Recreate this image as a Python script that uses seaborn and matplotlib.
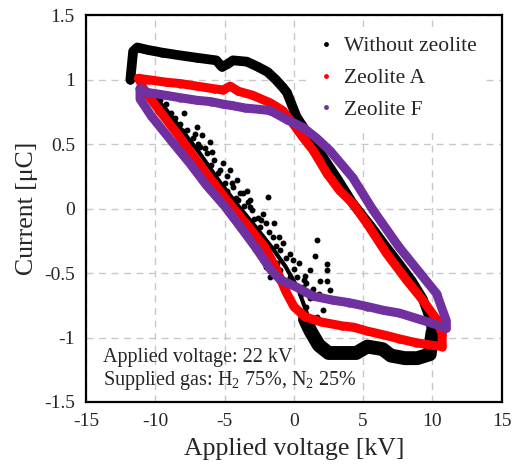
import matplotlib
matplotlib.use("Agg")
import matplotlib.pyplot as plt
from matplotlib.lines import Line2D
import seaborn as sns
import pandas as pd

# ---------------- data ----------------
# Without zeolite: upper edge and falling branch
wz_x = [-11.8, -11.6, -11.3, -10.5, -9.5, -8.3, -7.0, -5.6, -5.2, -4.8, -4.4, -3.4, -2.6, -1.9,
        -1.3, -0.8, -0.5, 0.2, 1.0, 2.1, 3.2, 4.25, 5.5, 6.6, 7.6, 8.5, 9.3, 9.7, 10.0]
wz_y = [1.00, 1.22, 1.25, 1.23, 1.21, 1.19, 1.17, 1.15, 1.10, 1.12, 1.15, 1.14, 1.10, 1.06,
        1.00, 0.94, 0.90, 0.71, 0.58, 0.40, 0.22, 0.04, -0.13, -0.29, -0.43, -0.56, -0.70, -0.82, -0.96]
# Without zeolite: lower edge
wzb_x = [10.0, 9.8, 8.9, 8.0, 7.0, 6.4, 5.3, 4.5, 3.5, 2.5, 1.8, 1.2, 0.8]
wzb_y = [-0.96, -1.13, -1.16, -1.16, -1.14, -1.09, -1.07, -1.12, -1.12, -1.12, -1.06, -0.95, -0.86]
# Without zeolite: dense inner edge of the rising branch
wze_x = [-11.0, -10.2, -9.3, -7.8, -6.8, -5.3, -4.0, -2.7, -1.6, -0.6, 0.3, 0.9, 1.3]
wze_y = [0.96, 0.88, 0.78, 0.57, 0.43, 0.20, 0.02, -0.15, -0.30, -0.45, -0.62, -0.80, -0.92]
# Without zeolite: scattered points on the rising branch
wzs_x = [-9.66, -9.2, -8.9, -7.9, -8.2, -7.7, -7.3, -7.0, -6.6, -6.05, -6.8, -6.3, -5.8, -5.1,
         -5.3, -4.8, -4.6, -4.1, -4.4, -3.9, -3.4, -3.2, -3.0, -4.8, -5.6, -3.7, -1.9, -3.2,
         -2.2, -2.0, -1.4, -2.45, -1.5, -0.8, -1.0, -0.3, 0.4, 1.15, 0.2, 1.7, 1.5, 2.4,
         2.4, 1.9, 2.4, 2.6, 0.65, 1.15, 0.9, 1.65, 2.1, -1.2, -1.7, -2.0, -1.0, -0.3, 0.2,
         -8.5, -7.5, -6.0, -5.5, -4.2, -3.6, -2.6, -1.8, -0.6, 0.0, 0.7, -10.0, -9.0, -8.0,
         -6.9, -5.0, -4.0, -2.9, -1.3, 0.5, 1.4, 0.9, -8.6, -7.1, -6.4, -5.9, -4.5, -3.3,
         -2.4, -1.1, -0.1, 0.8, 1.8, 2.2]
wzs_y = [0.84, 0.81, 0.74, 0.74, 0.66, 0.61, 0.55, 0.63, 0.57, 0.52, 0.48, 0.43, 0.38, 0.35,
         0.30, 0.25, 0.30, 0.22, 0.17, 0.12, 0.14, 0.07, -0.01, 0.14, 0.22, 0.12, 0.09, 0.01,
         -0.04, -0.11, -0.11, -0.14, -0.22, -0.27, -0.32, -0.35, -0.42, -0.48, -0.53, -0.24, -0.37, -0.43,
         -0.48, -0.56, -0.56, -0.63, -0.61, -0.69, -0.76, -0.84, -0.79, -0.42, -0.53, -0.45, -0.48, -0.53, -0.61,
         0.66, 0.50, 0.34, 0.28, 0.08, 0.02, -0.07, -0.18, -0.38, -0.47, -0.55, 0.86, 0.72, 0.60,
         0.50, 0.20, 0.07, -0.08, -0.29, -0.66, -0.62, -0.58, 0.70, 0.58, 0.47, 0.44, 0.20, 0.05,
         -0.09, -0.22, -0.40, -0.52, -0.66, -0.70]

# Zeolite A loop
za_x = [-11.2, -10.5, -9.2, -8.2, -7.0, -5.8, -5.1, -4.6, -4.0, -3.0, -1.7, -0.8, -0.07, 0.6,
        1.4, 2.4, 3.3, 4.25, 5.3, 6.7, 8.1, 9.3, 10.3, 10.7, 10.7, 10.0, 8.8, 7.6, 6.5, 5.3,
        4.3, 3.5, 2.0, 0.8, 0.0, -0.6, -1.3, -2.1, -3.2, -4.5, -5.8, -7.2, -8.2, -9.7,
        -10.8, -11.2]
za_y = [1.01, 1.00, 0.98, 0.97, 0.95, 0.93, 0.92, 0.95, 0.91, 0.88, 0.82, 0.76, 0.66, 0.56,
        0.45, 0.27, 0.14, 0.04, -0.12, -0.35, -0.55, -0.71, -0.86, -0.97, -1.07, -1.06, -1.04, -1.01, -0.98, -0.95,
        -0.92, -0.91, -0.88, -0.84, -0.76, -0.64, -0.46, -0.30, -0.15, 0.02, 0.20, 0.40, 0.55, 0.76,
        0.92, 1.01]

# Zeolite F loop
zf_x = [-11.1, -10.5, -9.3, -8.2, -7.0, -6.0, -5.1, -4.5, -3.5, -2.5, -1.7, -0.5, 0.65, 1.6,
        2.6, 4.25, 5.7, 7.6, 9.1, 10.3, 11.0, 11.0, 10.0, 8.8, 7.6, 6.5, 5.3, 4.0,
        2.8, 1.4, 0.2, -0.4, -1.0, -1.7, -2.7, -3.8, -5.0, -6.3, -7.5, -8.8, -10.3, -11.1, -11.1]
zf_y = [0.93, 0.90, 0.88, 0.86, 0.84, 0.83, 0.81, 0.80, 0.78, 0.77, 0.76, 0.69, 0.63, 0.55,
        0.45, 0.24, -0.01, -0.30, -0.50, -0.66, -0.87, -0.93, -0.89, -0.85, -0.81, -0.79, -0.76, -0.73,
        -0.71, -0.68, -0.61, -0.58, -0.55, -0.47, -0.31, -0.15, 0.02, 0.18, 0.35, 0.52, 0.72, 0.85, 0.93]

labels = ["Without zeolite", "Zeolite A", "Zeolite F"]
colors = ["#000000", "#ff0000", "#7030a0"]
x_ticks = [-15, -10, -5, 0, 5, 10, 15]
x_ticklabels = ["-15", "-10", "-5", "0", "5", "10", "15"]
y_ticks = [-1.5, -1, -0.5, 0, 0.5, 1, 1.5]
y_ticklabels = ["-1.5", "-1", "-0.5", "0", "0.5", "1", "1.5"]
note_lines = ["Applied voltage: 22 kV", "Supplied gas: H$_2$ 75%, N$_2$ 25%"]

# ---------------- plotting ----------------
sns.set_style("white")
plt.rcParams["font.family"] = ["Liberation Serif", "DejaVu Serif"]
plt.rcParams["mathtext.fontset"] = "custom"
plt.rcParams["mathtext.rm"] = "Liberation Serif"
plt.rcParams["mathtext.it"] = "Liberation Serif:italic"
plt.rcParams["axes.unicode_minus"] = False

fig = plt.figure(figsize=(5.12, 4.76), dpi=100)
ax = fig.add_axes([0.168, 0.1555, 0.812, 0.8125])

df_wz = pd.DataFrame({"x": wz_x, "y": wz_y})
df_wzb = pd.DataFrame({"x": wzb_x, "y": wzb_y})
df_wze = pd.DataFrame({"x": wze_x, "y": wze_y})
df_wzs = pd.DataFrame({"x": wzs_x, "y": wzs_y})
df_za = pd.DataFrame({"x": za_x, "y": za_y})
df_zf = pd.DataFrame({"x": zf_x, "y": zf_y})

base_kw = dict(sort=False, estimator=None, ax=ax, marker="o", markeredgewidth=0,
               solid_capstyle="round", solid_joinstyle="round")

sns.lineplot(data=df_wz, x="x", y="y", color=colors[0], lw=7, markersize=6, **base_kw)
sns.lineplot(data=df_wzb, x="x", y="y", color=colors[0], lw=10, markersize=8, **base_kw)
sns.lineplot(data=df_wze, x="x", y="y", sort=False, estimator=None, ax=ax, color=colors[0],
             lw=3, solid_capstyle="round", solid_joinstyle="round")
sns.scatterplot(data=df_wzs, x="x", y="y", ax=ax, color=colors[0], s=18, linewidth=0)
sns.lineplot(data=df_za, x="x", y="y", color=colors[1], lw=6.5, markersize=6, **base_kw)
sns.lineplot(data=df_zf, x="x", y="y", color=colors[2], lw=6.5, markersize=6, **base_kw)

ax.set_xlim(-15, 15)
ax.set_ylim(-1.5, 1.5)
ax.set_xticks(x_ticks)
ax.set_xticklabels(x_ticklabels)
ax.set_yticks(y_ticks)
ax.set_yticklabels(y_ticklabels)
ax.tick_params(axis="both", labelsize=14, length=0, pad=8)
ax.grid(True, color="#c8c8c8", linestyle=(0, (5, 4)), linewidth=1)
ax.set_axisbelow(True)
for sp in ax.spines.values():
    sp.set_visible(True)
    sp.set_color("black")
    sp.set_linewidth(1.6)

ax.set_xlabel("Applied voltage [kV]", fontsize=18.5, labelpad=6)
ax.set_ylabel("Current [\u03bcC]", fontsize=18.5, labelpad=4)

handles = [Line2D([], [], linestyle="none", marker="o", markersize=3.5,
                  color=c, markeredgewidth=0) for c in colors]
leg = ax.legend(handles, labels, loc="upper right", frameon=True, fontsize=15.5,
                handlelength=0.6, handletextpad=0.5, labelspacing=0.55,
                bbox_to_anchor=(0.975, 0.985), borderaxespad=0.3)
leg.get_frame().set_facecolor("white")
leg.get_frame().set_edgecolor("none")
leg.get_frame().set_alpha(1)

ax.text(0.04, 0.115, note_lines[0], transform=ax.transAxes, fontsize=14.5, va="center", ha="left")
ax.text(0.04, 0.055, note_lines[1], transform=ax.transAxes, fontsize=14.5, va="center", ha="left")

fig.savefig("out.png", dpi=100)
